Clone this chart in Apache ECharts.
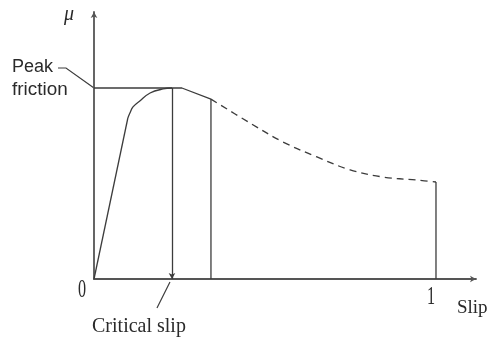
<!DOCTYPE html>
<html>
<head>
<meta charset="utf-8">
<script src="https://cdn.jsdelivr.net/npm/echarts@6/dist/echarts.min.js"></script>
<style>
  html, body { margin: 0; padding: 0; background: #fff; }
  #chart { width: 490px; height: 341px; }
</style>
</head>
<body>
<div id="chart"></div>
<script>
// Friction coefficient mu against slip ratio
const slipTicks = ['0', '1'];
const slipTickValues = [0, 1];

// rising branch: straight climb from zero slip, then the rounded knee up to the peak
const climbSlip = [0, 0.099];
const climbMu   = [0, 0.843];
const kneeSlip  = [0.099, 0.105, 0.114, 0.134, 0.164, 0.202, 0.228];
const kneeMu    = [0.843, 0.869, 0.901, 0.932, 0.974, 0.995, 1.0];

// peak friction plateau and the short solid fall after it
const peakSlip = [0, 0.257, 0.342];
const peakMu   = [1.0, 1.0, 0.942];

// dashed tail towards full slip
const tailSlip = [0.342, 0.456, 0.553, 0.652, 0.749, 0.845, 0.944, 1.0];
const tailMu   = [0.942, 0.817, 0.717, 0.639, 0.571, 0.534, 0.518, 0.508];

const criticalSlip = 0.228;
const criticalMu = 1.0;

const ink = '#3c3c3c';
const zip = (xs, ys) => xs.map((x, i) => [x, ys[i]]);
const lastOf = a => a[a.length - 1];

const chart = echarts.init(document.getElementById('chart'), null, { renderer: 'canvas' });

const plainLine = (data, extra) => Object.assign({
  type: 'line',
  data: data,
  symbol: 'none',
  silent: true,
  animation: false,
  lineStyle: { color: ink, width: 1.3 }
}, extra || {});

chart.setOption({
  animation: false,
  grid: { left: 94, right: 14, top: 12, bottom: 62 },
  xAxis: {
    type: 'value', min: 0, max: 1.117,
    axisLine: { lineStyle: { color: '#555', width: 1.8 }, symbol: ['none', 'arrow'], symbolSize: [5, 6] },
    axisTick: { show: false }, axisLabel: { show: false }, splitLine: { show: false }
  },
  yAxis: {
    type: 'value', min: 0, max: 1.398,
    axisLine: { show: true, lineStyle: { color: '#555', width: 1.8 }, symbol: ['none', 'arrow'], symbolSize: [5, 6] },
    axisTick: { show: false }, axisLabel: { show: false }, splitLine: { show: false }
  },
  series: [
    plainLine(zip(climbSlip, climbMu)),
    plainLine(zip(kneeSlip, kneeMu), { smooth: 0.4 }),
    plainLine(zip(peakSlip, peakMu)),
    plainLine(zip(tailSlip, tailMu), { smooth: 0.35, lineStyle: { color: ink, width: 1.3, type: [7, 5] } }),
    // vertical drop at the critical slip, ending in an arrowhead on the slip axis
    plainLine([], {
      markLine: {
        silent: true, animation: false,
        symbol: ['none', 'arrow'], symbolSize: [5, 6],
        label: { show: false },
        lineStyle: { color: ink, width: 1.3, type: 'solid' },
        data: [[{ coord: [criticalSlip, criticalMu] }, { coord: [criticalSlip, 0] }]]
      }
    }),
    plainLine([[lastOf(peakSlip), 0], [lastOf(peakSlip), lastOf(peakMu)]]),
    plainLine([[lastOf(tailSlip), 0], [lastOf(tailSlip), lastOf(tailMu)]])
  ]
});

// annotations placed from the chart's own coordinate conversion
const px = (x, y) => chart.convertToPixel({ gridIndex: 0 }, [x, y]);
const sans = '"Liberation Sans", Arial, sans-serif';
const serif = '"Liberation Serif", "Times New Roman", serif';
const text = (x, y, s, font, extra, el) => Object.assign({
  type: 'text', x: x, y: y,
  style: Object.assign({ text: s, fill: '#2a2a2a', font: font, align: 'center', verticalAlign: 'middle' }, (extra || {}))
}, el || {});

const graphics = [];
const peakAtAxis = px(0, 1);
const yTop = px(0, 1.398);
const xEnd = px(1.117, 0);
const crit = px(criticalSlip, 0);

// slip tick labels: tall narrow serif digits
slipTickValues.forEach((v, i) => {
  const p = px(v, 0);
  const dx = v === 0 ? -12 : -5;
  const dy = v === 0 ? 11 : 18;
  graphics.push(text(p[0] + dx, p[1] + dy, slipTicks[i], '19px ' + serif, null,
    { scaleX: 0.85, scaleY: 1.35 }));
});
graphics.push(text(xEnd[0] - 19, xEnd[1] + 29, 'Slip', '19px ' + serif, { align: 'left' }));
graphics.push(text(yTop[0] - 25, yTop[1] + 3, 'μ', 'italic 20px ' + serif));

// peak friction label and its leader
graphics.push(text(12, peakAtAxis[1] - 21, 'Peak', '18px ' + sans, { align: 'left' }));
graphics.push(text(12, peakAtAxis[1] + 2, 'friction', '18px ' + sans, { align: 'left' }, { scaleX: 1.05 }));
graphics.push({
  type: 'polyline',
  shape: { points: [[58, peakAtAxis[1] - 20], [66, peakAtAxis[1] - 20], [peakAtAxis[0], peakAtAxis[1]]] },
  style: { stroke: '#3c3c3c', lineWidth: 1.2, fill: null }
});

// critical slip label and its leader
graphics.push(text(crit[0] - 33, crit[1] + 47, 'Critical slip', '20px ' + serif, null, { scaleY: 1.1 }));
graphics.push({
  type: 'line',
  shape: { x1: crit[0] - 15, y1: crit[1] + 29, x2: crit[0] - 2, y2: crit[1] + 3 },
  style: { stroke: '#3c3c3c', lineWidth: 1.2 }
});

chart.setOption({ graphic: graphics });
</script>
</body>
</html>
